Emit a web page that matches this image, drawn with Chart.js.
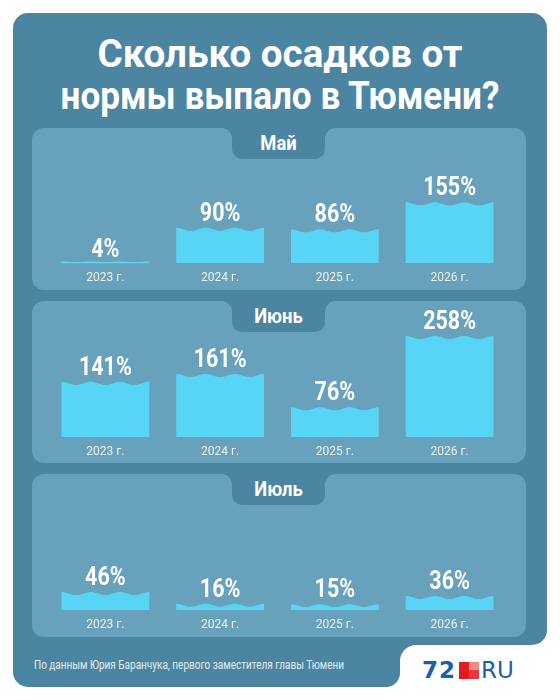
<!DOCTYPE html>
<html lang="ru">
<head>
<meta charset="utf-8">
<title>Осадки в Тюмени</title>
<script src="https://cdn.jsdelivr.net/npm/chart.js@4.4.1/dist/chart.umd.min.js"></script>
<style>
  html, body { margin: 0; padding: 0; background: #fff; }
  body { width: 560px; height: 700px; position: relative; overflow: hidden;
         font-family: "Roboto", sans-serif; }
  .abs { position: absolute; }
  .card-top { left: 13px; top: 13px; width: 534px; height: 632px; background: #4c85a1;
              border-radius: 15px 15px 15px 0; }
  .card-bottom { left: 13px; top: 600px; width: 387px; height: 87px; background: #4c85a1;
                 border-radius: 0 0 14px 15px; }
  .notch-fill { left: 400px; top: 645px; width: 16px; height: 16px; background: #4c85a1; }
  .notch-cut { left: 400px; top: 645px; width: 16px; height: 16px; background: #fff;
               border-top-left-radius: 16px; }
  .title { left: 0; width: 560px; text-align: center; color: #fff; white-space: nowrap;
           font-weight: bold; font-size: 39px; line-height: 42px; }
  .panel { left: 32px; width: 494px; background: #68a1bb; border-radius: 12px; }
  .tab { left: 232px; width: 93px; height: 31px; background: #4c85a1;
         border-radius: 0 0 10px 10px; }
  .tab span { display: block; color: #fff; font-weight: bold; font-size: 20px;
              text-align: center; line-height: 30px; transform: scaleX(0.92); }
  .cl { width: 10px; height: 10px; background: radial-gradient(circle at 0 100%, #68a1bb 9.5px, #4c85a1 10px); left: 222px; }
  .cr { width: 10px; height: 10px; background: radial-gradient(circle at 100% 100%, #68a1bb 9.5px, #4c85a1 10px); left: 325px; }
  canvas.chart { position: absolute; left: 32px; }
  .source { left: 34px; top: 657px; color: #e3eef3; font-size: 12.5px; white-space: nowrap;
            transform: scaleX(0.8); transform-origin: 0 0; }
  .logo { left: 422px; top: 658px; height: 24px; display: flex; align-items: center; }
  .logo .num { font-family: "DejaVu Sans", sans-serif; font-weight: bold; font-size: 23px;
               color: #1b5ea9; letter-spacing: 1px; }
  .logo .sq { width: 20px; height: 17px; margin: 0 2px 0 3px; position: relative; }
  .logo .sq span { position: absolute; }
  .logo .ru { font-family: "DejaVu Sans", sans-serif; font-size: 23px; color: #1b5ea9; }
</style>
</head>
<body>
<div class="abs card-top"></div>
<div class="abs card-bottom"></div>
<div class="abs notch-fill"></div>
<div class="abs notch-cut"></div>

<div class="abs title" style="top:33px;transform:scaleX(0.99);transform-origin:280px 0">Сколько осадков от</div>
<div class="abs title" style="top:75px;transform:scaleX(0.9);transform-origin:280px 0">нормы выпало в Тюмени?</div>

<div class="abs panel" style="top:128px;height:162px"></div>
<div class="abs cl" style="top:128px"></div>
<div class="abs cr" style="top:128px"></div>
<div class="abs tab" style="top:128px"><span id="tab0"></span></div>
<canvas class="chart" id="chartMay" width="494" height="171" style="top:128px"></canvas>

<div class="abs panel" style="top:301px;height:162px"></div>
<div class="abs cl" style="top:301px"></div>
<div class="abs cr" style="top:301px"></div>
<div class="abs tab" style="top:301px"><span id="tab1"></span></div>
<canvas class="chart" id="chartJune" width="494" height="171" style="top:301px"></canvas>

<div class="abs panel" style="top:474px;height:163px"></div>
<div class="abs cl" style="top:474px"></div>
<div class="abs cr" style="top:474px"></div>
<div class="abs tab" style="top:474px"><span id="tab2"></span></div>
<canvas class="chart" id="chartJuly" width="494" height="172" style="top:474px"></canvas>

<div class="abs source">По данным Юрия Баранчука, первого заместителя главы Тюмени</div>
<div class="abs logo">
  <span class="num">72</span>
  <span class="sq">
    <span style="left:0;top:0;width:10px;height:17px;background:#e21b23"></span>
    <span style="left:10px;top:0;width:10px;height:8px;background:#f28a80"></span>
    <span style="left:10px;top:8px;width:10px;height:9px;background:#e9353d"></span>
  </span>
  <span class="ru">RU</span>
</div>

<script>
// Осадки от нормы, %
const years = ['2023 г.', '2024 г.', '2025 г.', '2026 г.'];
const months = ['Май', 'Июнь', 'Июль'];
const mayValues = [4, 90, 86, 155];
const juneValues = [141, 161, 76, 258];
const julyValues = [46, 16, 15, 36];

const barColor = '#58d5f4';
const panelColor = '#68a1bb';

// wavy top of every bar + value label above it
const wavePlugin = {
    id: 'wave',
    afterDatasetsDraw(chart) {
        const ctx = chart.ctx;
        const meta = chart.getDatasetMeta(0);
        const values = chart.data.datasets[0].data;
        meta.data.forEach((bar, i) => {
            const left = bar.x - bar.width / 2;
            const w = bar.width;
            const top = bar.y;
            const h = bar.base - bar.y;
            const a = Math.min(1.6, h * 0.25);
            ctx.save();
            ctx.fillStyle = panelColor;
            ctx.fillRect(left - 0.5, top - 0.5, w + 1, 2 * a + 0.5);
            ctx.beginPath();
            for (let k = 0; k <= 60; k++) {
                const t = k / 60;
                const py = top + a - a * Math.cos(t * Math.PI * 2 * 3);
                if (k === 0) ctx.moveTo(left, py); else ctx.lineTo(left + t * w, py);
            }
            ctx.lineTo(left + w, top + 2 * a + 1);
            ctx.lineTo(left, top + 2 * a + 1);
            ctx.closePath();
            ctx.fillStyle = barColor;
            ctx.fill();

            ctx.translate(bar.x, top - 3 - 2.5 * a);
            ctx.scale(0.86, 1);
            ctx.fillStyle = '#ffffff';
            ctx.font = 'bold 25px Roboto, sans-serif';
            ctx.textAlign = 'center';
            ctx.textBaseline = 'alphabetic';
            ctx.fillText(values[i] + '%', 0, 0);
            ctx.restore();
        });
    }
};

function makeChart(id, values, padTop, padBottom) {
    const ctx = document.getElementById(id).getContext('2d');
    return new Chart(ctx, {
        type: 'bar',
        data: {
            labels: years,
            datasets: [{
                data: values,
                backgroundColor: barColor,
                borderWidth: 0,
                barPercentage: 0.765,
                categoryPercentage: 1
            }]
        },
        options: {
            responsive: false,
            animation: false,
            layout: { padding: { left: 16, right: 19, top: padTop, bottom: padBottom } },
            plugins: { legend: { display: false }, tooltip: { enabled: false } },
            scales: {
                x: {
                    grid: { display: false, drawTicks: false },
                    border: { display: false },
                    ticks: {
                        color: '#eef5f8',
                        font: { family: 'Roboto', size: 12 },
                        padding: 8
                    }
                },
                y: { display: false, min: 0, max: 300 }
            }
        },
        plugins: [wavePlugin]
    });
}

months.forEach((m, i) => { document.getElementById('tab' + i).textContent = m; });

makeChart('chartMay', mayValues, 17.5, 5.6);
makeChart('chartJune', juneValues, 18.5, 4.6);
makeChart('chartJuly', julyValues, 18.5, 5.6);
</script>
</body>
</html>
